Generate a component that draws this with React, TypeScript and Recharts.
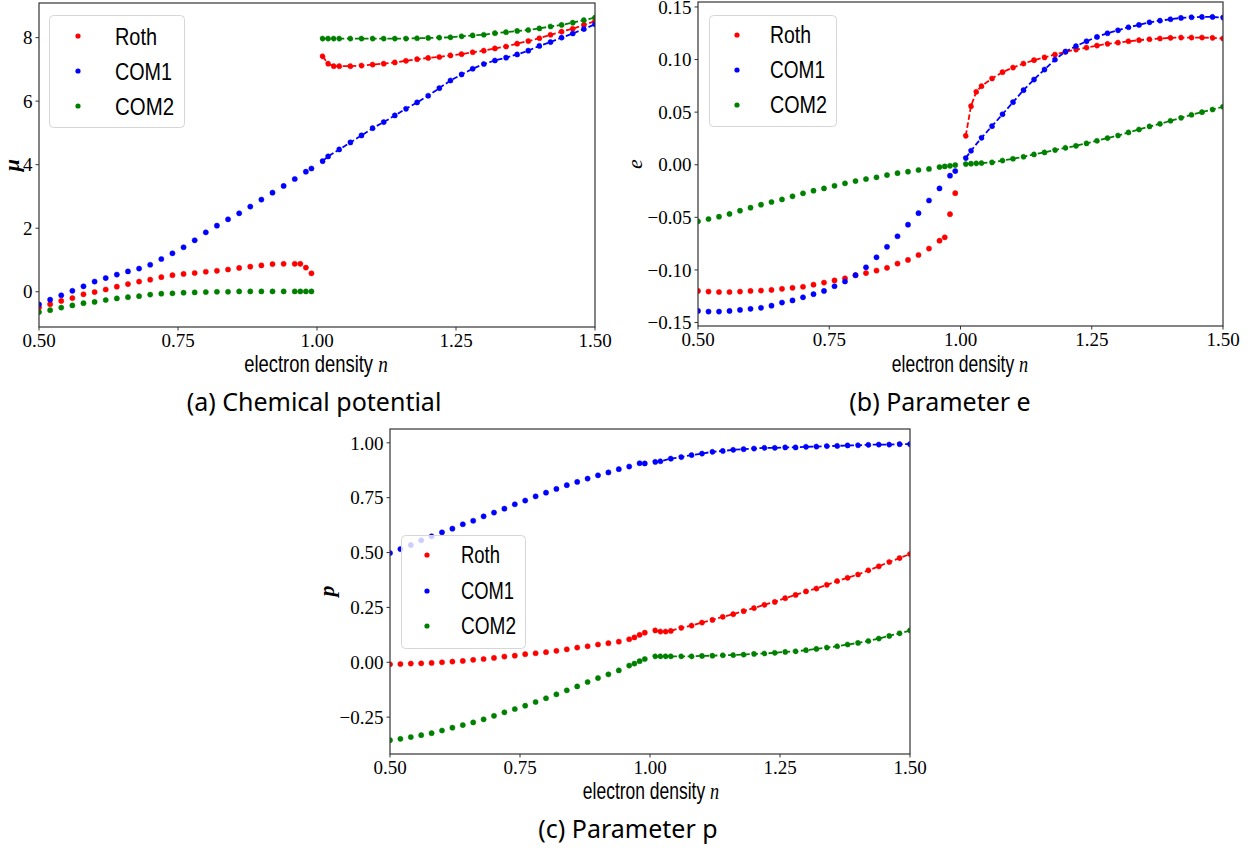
import { LineChart, Line, XAxis, YAxis } from "recharts";

const serif = "'Liberation Serif', 'Times New Roman', serif";
const sans = "'Liberation Sans', Arial, sans-serif";
const captionFont = "'Noto Sans', 'Open Sans', sans-serif";

const RED = "#ff0000";
const BLUE = "#0000ff";
const GREEN = "#008000";

// densities (COM1 has no point at 0.97 and 1.03)
const xLeft = [0.5, 0.52, 0.54, 0.56, 0.58, 0.6, 0.62, 0.64, 0.66, 0.68, 0.7, 0.72, 0.74, 0.76, 0.78, 0.8, 0.82, 0.84, 0.86, 0.88, 0.9, 0.92, 0.94, 0.96, 0.97, 0.98, 0.99];
const xLeftCom1 = [0.5, 0.52, 0.54, 0.56, 0.58, 0.6, 0.62, 0.64, 0.66, 0.68, 0.7, 0.72, 0.74, 0.76, 0.78, 0.8, 0.82, 0.84, 0.86, 0.88, 0.9, 0.92, 0.94, 0.96, 0.98, 0.99];
const xRight = [1.01, 1.02, 1.03, 1.04, 1.06, 1.08, 1.1, 1.12, 1.14, 1.16, 1.18, 1.2, 1.22, 1.24, 1.26, 1.28, 1.3, 1.32, 1.34, 1.36, 1.38, 1.4, 1.42, 1.44, 1.46, 1.48, 1.5];
const xRightCom1 = [1.01, 1.02, 1.04, 1.06, 1.08, 1.1, 1.12, 1.14, 1.16, 1.18, 1.2, 1.22, 1.24, 1.26, 1.28, 1.3, 1.32, 1.34, 1.36, 1.38, 1.4, 1.42, 1.44, 1.46, 1.48, 1.5];

const xTicks = [0.5, 0.75, 1, 1.25, 1.5];

// (a) chemical potential
const muRothLeft = [-0.5, -0.39, -0.29, -0.2, -0.08, -0.01, 0.07, 0.16, 0.24, 0.32, 0.38, 0.46, 0.52, 0.56, 0.59, 0.63, 0.66, 0.7, 0.75, 0.79, 0.83, 0.87, 0.88, 0.88, 0.88, 0.76, 0.58];
const muCom1Left = [-0.4, -0.25, -0.11, 0.03, 0.17, 0.32, 0.43, 0.54, 0.64, 0.73, 0.85, 1.03, 1.21, 1.4, 1.62, 1.87, 2.08, 2.28, 2.47, 2.68, 2.9, 3.12, 3.33, 3.55, 3.78, 3.88];
const muCom2Left = [-0.64, -0.58, -0.5, -0.43, -0.36, -0.32, -0.26, -0.21, -0.17, -0.14, -0.09, -0.06, -0.05, -0.03, -0.02, -0.01, 0, 0, 0.01, 0.01, 0.01, 0.01, 0.01, 0.01, 0.01, 0.01, 0.01];
const muRothRight = [7.41, 7.18, 7.1, 7.1, 7.1, 7.12, 7.15, 7.18, 7.22, 7.27, 7.32, 7.36, 7.39, 7.44, 7.48, 7.54, 7.59, 7.66, 7.72, 7.81, 7.89, 7.98, 8.09, 8.19, 8.28, 8.4, 8.52];
const muCom1Right = [4.11, 4.26, 4.48, 4.7, 4.92, 5.15, 5.34, 5.55, 5.76, 5.96, 6.17, 6.41, 6.65, 6.84, 7.02, 7.17, 7.28, 7.37, 7.47, 7.59, 7.74, 7.86, 8.0, 8.13, 8.27, 8.42];
const muCom2Right = [7.97, 7.97, 7.97, 7.97, 7.97, 7.97, 7.97, 7.97, 7.97, 7.97, 7.98, 7.99, 8.0, 8.01, 8.04, 8.07, 8.09, 8.14, 8.17, 8.21, 8.24, 8.29, 8.35, 8.4, 8.47, 8.55, 8.63];

// (b) parameter e
const eRothLeft = [-0.12, -0.1206, -0.121, -0.121, -0.1206, -0.12, -0.1196, -0.119, -0.118, -0.117, -0.116, -0.114, -0.112, -0.11, -0.108, -0.105, -0.103, -0.1006, -0.098, -0.094, -0.0905, -0.0858, -0.0797, -0.0722, -0.069, -0.047, -0.027];
const eCom1Left = [-0.139, -0.1396, -0.1396, -0.139, -0.138, -0.137, -0.136, -0.134, -0.131, -0.129, -0.126, -0.123, -0.12, -0.1155, -0.111, -0.105, -0.0975, -0.088, -0.078, -0.068, -0.057, -0.046, -0.034, -0.0225, -0.0104, -0.006];
const eCom2Left = [-0.0538, -0.0516, -0.0494, -0.0468, -0.0437, -0.0408, -0.038, -0.0354, -0.033, -0.03, -0.0272, -0.0247, -0.0225, -0.02, -0.0177, -0.0155, -0.0136, -0.012, -0.0098, -0.008, -0.0066, -0.005, -0.004, -0.0022, -0.0016, -0.001, -0.0003];
const eRothRight = [0.0275, 0.0557, 0.0693, 0.0747, 0.082, 0.088, 0.0924, 0.0962, 0.0994, 0.102, 0.1047, 0.1073, 0.1095, 0.1114, 0.1133, 0.1149, 0.1161, 0.1174, 0.1184, 0.1193, 0.12, 0.1206, 0.1209, 0.1209, 0.1209, 0.1206, 0.12];
const eCom1Right = [0.0063, 0.0133, 0.0256, 0.0367, 0.048, 0.0595, 0.0709, 0.081, 0.0905, 0.1, 0.1076, 0.1127, 0.1174, 0.1215, 0.125, 0.1278, 0.1307, 0.1329, 0.1354, 0.137, 0.1383, 0.1396, 0.1402, 0.1405, 0.1405, 0.1399];
const eCom2Right = [0.0006, 0.001, 0.0013, 0.0016, 0.0022, 0.004, 0.0057, 0.0076, 0.0098, 0.0117, 0.0139, 0.0161, 0.018, 0.0203, 0.0228, 0.0253, 0.0278, 0.0307, 0.0335, 0.0364, 0.0389, 0.0418, 0.0446, 0.0475, 0.05, 0.0525, 0.0551];

// (c) parameter p
const pRothLeft = [-0.009, -0.008, -0.006, -0.005, -0.003, 0, 0.003, 0.006, 0.011, 0.015, 0.02, 0.026, 0.03, 0.037, 0.041, 0.046, 0.052, 0.059, 0.067, 0.073, 0.081, 0.087, 0.094, 0.105, 0.113, 0.125, 0.135];
const pCom1Left = [0.498, 0.516, 0.534, 0.556, 0.574, 0.592, 0.609, 0.629, 0.645, 0.665, 0.682, 0.7, 0.72, 0.737, 0.756, 0.773, 0.79, 0.807, 0.822, 0.837, 0.852, 0.865, 0.88, 0.892, 0.907, 0.906];
const pCom2Left = [-0.355, -0.349, -0.341, -0.332, -0.323, -0.311, -0.298, -0.286, -0.274, -0.26, -0.244, -0.228, -0.213, -0.198, -0.181, -0.164, -0.146, -0.128, -0.11, -0.09, -0.072, -0.055, -0.037, -0.015, -0.006, 0.005, 0.015];
const pRothRight = [0.145, 0.14, 0.14, 0.143, 0.157, 0.167, 0.181, 0.193, 0.207, 0.219, 0.233, 0.247, 0.262, 0.275, 0.292, 0.307, 0.323, 0.336, 0.353, 0.37, 0.385, 0.4, 0.419, 0.437, 0.457, 0.475, 0.493];
const pCom1Right = [0.913, 0.916, 0.928, 0.935, 0.944, 0.951, 0.959, 0.963, 0.968, 0.971, 0.974, 0.977, 0.977, 0.979, 0.979, 0.982, 0.983, 0.985, 0.986, 0.988, 0.989, 0.991, 0.992, 0.992, 0.994, 0.994];
const pCom2Right = [0.027, 0.027, 0.027, 0.027, 0.027, 0.027, 0.029, 0.03, 0.032, 0.033, 0.035, 0.038, 0.04, 0.043, 0.047, 0.05, 0.055, 0.061, 0.067, 0.073, 0.081, 0.088, 0.097, 0.108, 0.12, 0.132, 0.145];

const legendNames = ["Roth", "COM1", "COM2"];
const legendColors = [RED, BLUE, GREEN];

const pts = (xs: number[], ys: number[]) => xs.map((x, i) => ({ x, y: ys[i] }));

const minus = (s: string) => s.replace("-", "\u2212");

const makeSeries = (rl: number[], bl: number[], gl: number[], rr: number[], br: number[], gr: number[]) => [
  { key: "rl", color: RED, dashed: false, data: pts(xLeft, rl) },
  { key: "bl", color: BLUE, dashed: false, data: pts(xLeftCom1, bl) },
  { key: "gl", color: GREEN, dashed: false, data: pts(xLeft, gl) },
  { key: "rr", color: RED, dashed: true, data: pts(xRight, rr) },
  { key: "br", color: BLUE, dashed: true, data: pts(xRightCom1, br) },
  { key: "gr", color: GREEN, dashed: true, data: pts(xRight, gr) },
];

const panels = [
  {
    id: "a",
    left: 0, top: -12, width: 625, height: 392,
    margin: { top: 15, right: 30, bottom: 0, left: 0 },
    yWidth: 39, xHeight: 53,
    domain: [-1.11, 9.09],
    ticks: [0, 2, 4, 6, 8],
    fmt: (v: number) => minus(String(v)),
    series: makeSeries(muRothLeft, muCom1Left, muCom2Left, muRothRight, muCom1Right, muCom2Right),
  },
  {
    id: "b",
    left: 630, top: -12, width: 622, height: 392,
    margin: { top: 14, right: 29, bottom: 0, left: 0 },
    yWidth: 68, xHeight: 54,
    domain: [-0.1533, 0.1547],
    ticks: [-0.15, -0.1, -0.05, 0, 0.05, 0.1, 0.15],
    fmt: (v: number) => minus(v.toFixed(2)),
    series: makeSeries(eRothLeft, eCom1Left, eCom2Left, eRothRight, eCom1Right, eCom2Right),
  },
  {
    id: "c",
    left: 320, top: 420, width: 620, height: 400,
    margin: { top: 9, right: 30, bottom: 0, left: 0 },
    yWidth: 70, xHeight: 66,
    domain: [-0.418, 1.063],
    ticks: [-0.25, 0, 0.25, 0.5, 0.75, 1],
    fmt: (v: number) => minus(v.toFixed(2)),
    series: makeSeries(pRothLeft, pCom1Left, pCom2Left, pRothRight, pCom1Right, pCom2Right),
  },
];

// overlay decorations (frames, titles, legends, captions)
const frames = [
  { x: 39, y: 3, w: 556, h: 324 },
  { x: 698, y: 2, w: 525, h: 324 },
  { x: 390, y: 429, w: 520, h: 325 },
];
const xTitles = [
  { x: 316, y: 372, sx: 0.8 },
  { x: 960, y: 372, sx: 0.76 },
  { x: 651, y: 799, sx: 0.76 },
];
const yTitles = [
  { x: 19, y: 165, t: "\u03bc", bold: true },
  { x: 642, y: 164, t: "e", bold: false },
  { x: 334, y: 591, t: "p", bold: true },
];
const captions = [
  { x: 314, y: 411, t: "(a) Chemical potential" },
  { x: 940, y: 411, t: "(b) Parameter e" },
  { x: 628, y: 838, t: "(c) Parameter p" },
];
const legends = [
  { x: 49.5, y: 15.5, w: 135, h: 112, dot: 78, text: 115, rows: [36, 71, 106], size: 24, lens: [42, 57, 59] },
  { x: 709.5, y: 15.5, w: 127, h: 111, dot: 737, text: 770, rows: [35, 70, 105], size: 23.5, lens: [41, 55, 57] },
  { x: 401.5, y: 535.5, w: 124, h: 113, dot: 427, text: 461, rows: [555, 591, 626], size: 23, lens: [39, 53, 55] },
];

function Panel({ p }: { p: (typeof panels)[number] }) {
  return (
    <div style={{ position: "absolute", left: p.left, top: p.top }}>
      <LineChart width={p.width} height={p.height} margin={p.margin}>
        <XAxis
          type="number"
          dataKey="x"
          domain={[0.5, 1.5]}
          ticks={xTicks}
          interval={0}
          allowDataOverflow
          height={p.xHeight}
          tickFormatter={(v: number) => v.toFixed(2)}
          axisLine={false}
          tickLine={{ stroke: "#333" }}
          tickSize={3.5}
          tickMargin={3}
          tick={{ fill: "#000", fontSize: 19, fontFamily: serif }}
        />
        <YAxis
          type="number"
          dataKey="y"
          domain={p.domain}
          ticks={p.ticks}
          interval={0}
          allowDataOverflow
          width={p.yWidth}
          tickFormatter={p.fmt}
          axisLine={false}
          tickLine={{ stroke: "#333" }}
          tickSize={3.5}
          tickMargin={3}
          tick={{ fill: "#000", fontSize: 19, fontFamily: serif }}
        />
        {p.series.map((s) => (
          <Line
            key={s.key}
            data={s.data}
            dataKey="y"
            type="linear"
            stroke={s.dashed ? s.color : "none"}
            strokeWidth={1.8}
            strokeDasharray={s.dashed ? "5.5 2.6" : undefined}
            dot={{ r: 2.6, fill: s.color, stroke: s.color, strokeWidth: 0.5 }}
            activeDot={false}
            legendType="none"
            isAnimationActive={false}
          />
        ))}
      </LineChart>
    </div>
  );
}

export default function App() {
  return (
    <div style={{ position: "absolute", left: 0, top: 0, width: 1252, height: 850, background: "#fff", overflow: "hidden" }}>
      {panels.map((p) => (
        <Panel key={p.id} p={p} />
      ))}
      <svg
        width={1252}
        height={850}
        style={{ position: "absolute", left: 0, top: 0, pointerEvents: "none" }}
      >
        {legends.map((l, i) => (
          <g key={"lg" + i}>
            <rect x={l.x} y={l.y} width={l.w} height={l.h} rx={4} fill="#fff" fillOpacity={0.8} stroke="#d6d6d6" strokeWidth={1} />
            {legendNames.map((n, j) => (
              <g key={n}>
                <circle cx={l.dot} cy={l.rows[j]} r={2.6} fill={legendColors[j]} />
                <text
                  x={l.text}
                  y={l.rows[j] + l.size * 0.36}
                  fontFamily={sans}
                  fontSize={l.size}
                  fill="#000"
                  textLength={l.lens[j]}
                  lengthAdjust="spacingAndGlyphs"
                >
                  {n}
                </text>
              </g>
            ))}
          </g>
        ))}
        {frames.map((f, i) => (
          <rect key={"fr" + i} x={f.x} y={f.y} width={f.w} height={f.h} fill="none" stroke="#333" strokeWidth={1.2} />
        ))}
        {xTitles.map((t, i) => (
          <text
            key={"xt" + i}
            transform={`translate(${t.x} ${t.y}) scale(${t.sx} 1)`}
            textAnchor="middle"
            fontFamily={sans}
            fontSize={23}
            fill="#000"
          >
            electron density{" "}
            <tspan fontFamily={serif} fontStyle="italic" fontSize={24}>
              n
            </tspan>
          </text>
        ))}
        {yTitles.map((t, i) => (
          <text
            key={"yt" + i}
            x={t.x}
            y={t.y}
            transform={`rotate(-90 ${t.x} ${t.y})`}
            textAnchor="middle"
            fontFamily={serif}
            fontStyle="italic"
            fontWeight={t.bold ? "bold" : "normal"}
            fontSize={22}
            fill="#000"
          >
            {t.t}
          </text>
        ))}
        {captions.map((c, i) => (
          <text key={"cp" + i} x={c.x} y={c.y} textAnchor="middle" fontFamily={captionFont} fontSize={25} fill="#000">
            {c.t}
          </text>
        ))}
      </svg>
    </div>
  );
}
